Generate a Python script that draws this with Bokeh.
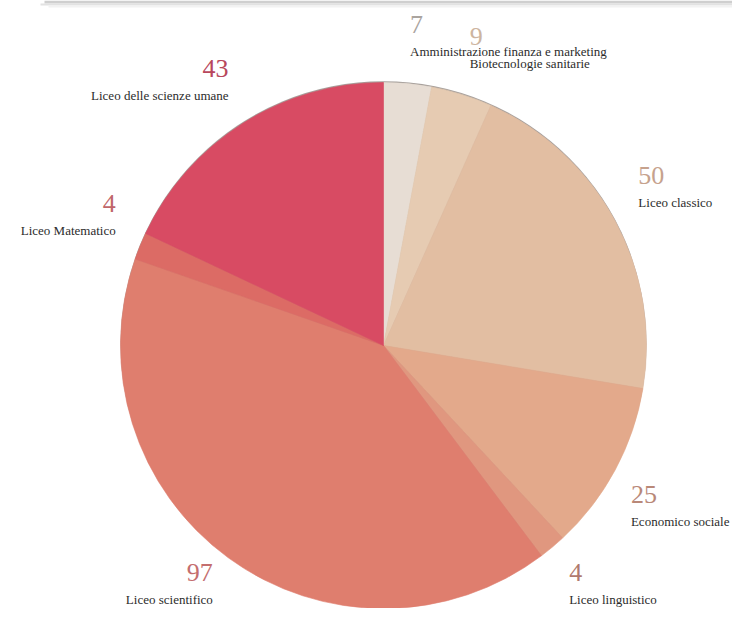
import numpy as np
from bokeh.plotting import figure
from bokeh.models import ColumnDataSource, Range1d
from bokeh.core.properties import value
from bokeh.embed import file_html
from bokeh.resources import INLINE

# ---- data ----
categories = ["Amministrazione finanza e marketing", "Biotecnologie sanitarie",
              "Liceo classico", "Economico sociale", "Liceo linguistico",
              "Liceo scientifico", "Liceo Matematico", "Liceo delle scienze umane"]
counts = [7, 9, 50, 25, 4, 97, 4, 43]
slice_colors = ["#e7ddd4", "#e6cbb2", "#e2bea2", "#e3a98b", "#e0977f",
                "#df7e6e", "#dc6b65", "#d84b63"]
number_colors = ["#aaa49f", "#cdb5a0", "#c6a28d", "#b98878", "#b07a6e",
                 "#c46e6e", "#c0666a", "#b8475c"]

# ---- layout (pixel frame, origin at figure top-left) ----
W, H = 732, 608
CX, CY_PAGE, R = 383, 345, 263
LABEL_R = 1.1 * R
LABEL_PX = 13
NUM_PX = 26
to_y = lambda page_y: H - page_y
CY = to_y(CY_PAGE)

# approximate serif glyph widths (per 1000 em) used only to keep labels inside
_w = dict(a=444, b=500, c=444, d=500, e=444, f=333, g=500, h=500, i=278, j=278,
          k=500, l=278, m=778, n=500, o=500, p=500, q=500, r=333, s=389, t=278,
          u=500, v=500, w=722, x=500, y=500, z=444)
_w.update({" ": 250, "A": 722, "B": 667, "E": 611, "L": 611, "M": 889})
def text_w(s, px):
    return sum(_w.get(ch, 500) for ch in s) / 1000 * px

vals = np.array(counts, dtype=float)
total = vals.sum()
c1 = np.cumsum(vals)
c0 = c1 - vals
start = np.pi / 2 - 2 * np.pi * c0 / total
end = np.pi / 2 - 2 * np.pi * c1 / total
mid_cw = 2 * np.pi * (c0 + c1) / 2 / total  # clockwise from top

p = figure(width=W, height=H, output_backend="svg", toolbar_location=None,
           x_range=Range1d(0, W), y_range=Range1d(0, H),
           x_axis_location=None, y_axis_location=None, min_border=0,
           background_fill_color="white", border_fill_color="white")
p.grid.visible = False
p.outline_line_color = None

# shadowed bottom edge of a panel at the very top
p.quad(left=[44, 40, 48], right=[W, W, W],
       top=[to_y(0), to_y(3), to_y(5)], bottom=[to_y(3), to_y(5), to_y(7)],
       fill_color=["#cfcfcf", "#e2e2e2", "#f2f2f2"], line_color=None)

# faint edge shadow
p.circle(x=[CX], y=[CY + 1.3], radius=R, fill_color="#8a807b", fill_alpha=0.75,
         line_color=None)

wsrc = ColumnDataSource(dict(start=start, end=end, color=slice_colors,
                             cat=categories, n=counts))
p.wedge(x=CX, y=CY, radius=R, start_angle="start", end_angle="end",
        direction="clock", fill_color="color", line_color="color",
        line_width=0.6, source=wsrc)

# labels
ax = CX + LABEL_R * np.sin(mid_cw)
ay_page = CY_PAGE - LABEL_R * np.cos(mid_cw)
for side in ("left", "right"):
    idx = [i for i in range(len(counts))
           if (np.sin(mid_cw[i]) > 0) == (side == "left")]
    if not idx:
        continue
    xs, ny, ly = [], [], []
    for i in idx:
        top = np.cos(mid_cw[i]) > 0
        if top:
            lab_c, num_c = ay_page[i] - 6, ay_page[i] - 33
        else:
            num_c, lab_c = ay_page[i] + 12, ay_page[i] + 39
        over = lab_c + 9 - H
        if over > 0:
            lab_c -= over
            num_c -= over
        x = ax[i]
        if side == "left":
            x = min(x, W - 3 - text_w(categories[i], LABEL_PX))
        xs.append(x)
        ny.append(to_y(num_c))
        ly.append(to_y(lab_c))
    src = ColumnDataSource(dict(
        x=xs, ny=ny, ly=ly,
        num=[str(counts[i]) for i in idx],
        lab=[categories[i] for i in idx],
        ncol=[number_colors[i] for i in idx],
    ))
    p.text(x="x", y="ny", text="num", source=src,
           text_align=side, text_baseline="middle",
           text_font=value("Liberation Serif"), text_font_size=f"{NUM_PX}px",
           text_color="ncol")
    p.text(x="x", y="ly", text="lab", source=src,
           text_align=side, text_baseline="middle",
           text_font=value("Liberation Serif"), text_font_size=f"{LABEL_PX}px",
           text_color="#2b2b2b")

open("out.html", "w").write(file_html(p, INLINE))
